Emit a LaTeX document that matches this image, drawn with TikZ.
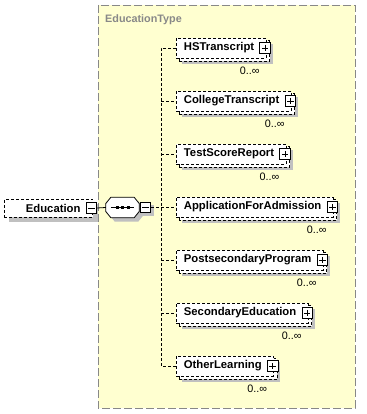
\documentclass[tikz,border=0pt]{standalone}
\usepackage{fontspec}
\setmainfont{Liberation Sans}
\usetikzlibrary{calc}

\definecolor{typefill}{RGB}{255,255,208}
\definecolor{typeline}{RGB}{136,136,136}
\definecolor{shadowc}{RGB}{192,192,192}

\pgfdeclarelayer{bg}
\pgfdeclarelayer{shade}
\pgfsetlayers{bg,shade,main}

% octagon outline around a node, shifted by (#2,#3)
\newcommand{\octpath}[3]{%
  ($(#1.west)+(#2,#3-4)$) -- ($(#1.north west)+(#2+5,#3)$) -- ($(#1.north east)+(#2-5,#3)$)
  -- ($(#1.east)+(#2,#3-4)$) -- ($(#1.east)+(#2,#3+4)$) -- ($(#1.south east)+(#2-5,#3)$)
  -- ($(#1.south west)+(#2+5,#3)$) -- ($(#1.west)+(#2,#3+4)$) -- cycle}

\tikzset{
  elem/.style={draw, dash pattern=on 3pt off 2pt, fill=white, line width=0.8pt,
    font=\bfseries\fontsize{11.3}{13}\selectfont, minimum height=20pt,
    inner ysep=0pt, inner xsep=0pt, anchor=west,
    execute at begin node={\hspace*{7.5pt}}, execute at end node={\hspace*{12pt}}},
  backbox/.style={draw, dash pattern=on 3pt off 2pt, fill=white, line width=0.8pt},
  shadowbox/.style={fill=shadowc},
  pmbox/.style={draw, solid, fill=white, line width=0.8pt, minimum size=10.5pt,
    inner sep=0pt},
  plusbox/.style={pmbox, path picture={
    \draw[line width=0.8pt] ([xshift=2pt]path picture bounding box.west) -- ([xshift=-2pt]path picture bounding box.east);
    \draw[line width=0.8pt] ([yshift=-2pt]path picture bounding box.north) -- ([yshift=2pt]path picture bounding box.south);}},
  minusbox/.style={pmbox, path picture={
    \draw[line width=0.8pt] ([xshift=2pt]path picture bounding box.west) -- ([xshift=-2pt]path picture bounding box.east);}},
  conn/.style={draw, dash pattern=on 3pt off 2pt, line width=0.8pt},
  mult/.style={font=\fontsize{10.8}{12}\selectfont, inner sep=0pt},
  typename/.style={font=\bfseries\fontsize{10.8}{12}\selectfont, text=typeline, inner sep=0pt, anchor=base west},
}

\begin{document}
\begin{tikzpicture}[x=1pt, y=-1pt]
  \useasboundingbox (0,0) rectangle (366,414);

  % complex type frame
  \begin{pgfonlayer}{bg}
    \draw[typeline, fill=typefill, dash pattern=on 8pt off 3pt, line width=0.8pt]
      (98,5) rectangle (355,408);
  \end{pgfonlayer}
  \node[typename] (tname) at (105,23) {EducationType};

  % root element
  \node[elem, minimum height=18pt, execute at begin node={\hspace*{14pt}}] (edu) at (4,208) {Education};
  \node[minusbox] (edum) at ([xshift=-1.5pt]edu.east) {};

  % sequence compositor: octagon with the three-dot glyph
  \node[minimum width=33pt, minimum height=20pt, inner sep=0pt] (seq) at (122.5,207.5) {};
  \draw[fill=white, line width=0.8pt] \octpath{seq}{0}{0};
  \node[minusbox] (seqm) at (145.5,207.5) {};
  \draw[line width=0.8pt] ([xshift=5pt]seq.west) -- ([xshift=-5pt]seq.east);
  \foreach \dx in {-5.5,0,5.5}
    \fill ($(seq.center)+(\dx-1.5,-1.5)$) rectangle ++(3,3);

  % child elements
  \node[elem] (hs) at (176,48)  {HSTranscript};
  \node[elem] (ct) at (176,101) {CollegeTranscript};
  \node[elem] (ts) at (176,154) {TestScoreReport};
  \node[elem] (aa) at (176,207) {ApplicationForAdmission};
  \node[elem] (pp) at (176,260) {PostsecondaryProgram};
  \node[elem] (se) at (176,313) {SecondaryEducation};
  \node[elem] (ol) at (176,366) {OtherLearning};

  % stacked copies and shadows behind the elements
  \begin{pgfonlayer}{shade}
    \fill[shadowbox] ($(edu.south west)+(5,5)$) rectangle ($(edu.north east)+(5,5)$);
    \fill[shadowbox] \octpath{seq}{4}{4};
    \fill[shadowbox] ($(seqm.south west)+(3,3)$) rectangle ($(seqm.north east)+(3,3)$);
    \foreach \n in {hs,ct,ts,aa,pp,se,ol} {
      \fill[shadowbox] ($(\n.south west)+(6,6)$) rectangle ($(\n.north east)+(6,6)$);
      \path[backbox] ($(\n.south west)+(3,3)$) rectangle ($(\n.north east)+(3,3)$);
    }
  \end{pgfonlayer}

  \foreach \n in {hs,ct,ts,aa,pp,se,ol} {
    \node[plusbox] (\n p) at ([xshift=-1.5pt]\n.east) {};
    \node[mult] (\n m) at ($(\n.east)+(-17,23)$) {0..∞};
  }

  % connectors
  \coordinate (bus) at (161,0);
  \draw[line width=0.8pt] (edum.east) -- (seq.west);
  \draw[conn] (seqm.east) -- (seqm.east -| bus);
  \draw[conn] (hs.west) -- (hs.west -| bus) -- (ol.west -| bus) -- (ol.west);
  \foreach \n in {ct,ts,aa,pp,se}
    \draw[conn] (\n.west -| bus) -- (\n.west);
\end{tikzpicture}
\end{document}
